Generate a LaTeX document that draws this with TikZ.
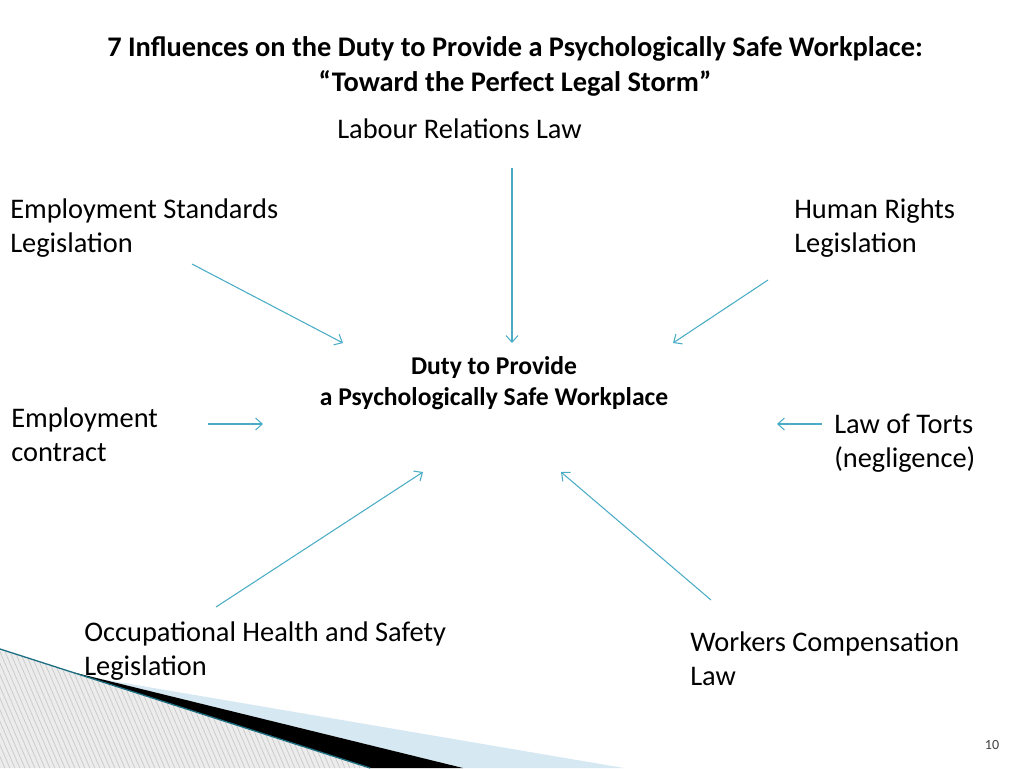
\documentclass[tikz,border=0pt]{standalone}
\usepackage{fontspec}
\setmainfont{Carlito}
\usetikzlibrary{arrows.meta}
\definecolor{arrowc}{RGB}{75,172,198}
\definecolor{lightband}{RGB}{214,232,241}
\definecolor{tealedge}{RGB}{30,110,130}
\definecolor{hatchbg}{RGB}{236,236,236}
\definecolor{hatchln}{RGB}{200,200,200}
\tikzset{
  lbl/.style={font=\fontsize{21.3}{25.2}\selectfont, inner sep=0pt, align=left, anchor=west},
  ttl/.style={font=\bfseries\fontsize{21.3}{25.8}\selectfont, inner sep=0pt, align=center},
  ctr/.style={font=\bfseries\fontsize{19.2}{23.4}\selectfont, inner sep=0pt, align=center},
  inf/.style={draw=arrowc, line width=0.8pt, -{Straight Barb[length=5pt,width=9pt,line width=0.8pt]}},
}
\begin{document}
\begin{tikzpicture}[x=0.75pt,y=-0.75pt]
\useasboundingbox (0,0) rectangle (1024,768);
% decoration bottom-left
\fill[lightband] (95,678) -- (624,768) -- (463,768) -- cycle;
\fill[black] (72,672) -- (463,768) -- (370,768) -- cycle;
\begin{scope}
  \clip (0,650) -- (370,768) -- (0,768) -- cycle;
  \fill[hatchbg] (0,640) rectangle (380,768);
  \foreach \i in {-40,...,80} {
    \draw[hatchln, line width=0.5pt] (\i*5,640) -- (\i*5+60,780);
  }
\end{scope}
\draw[tealedge, line width=1pt] (0,649) -- (370,768);

% title
\node[ttl] (title) at (515,66.5) {7 Influences on the Duty to Provide a Psychologically Safe Workplace:\\ \textquotedblleft Toward the Perfect Legal Storm\textquotedblright};

% labels
\node[lbl] (labour) at (337,128.5) {Labour Relations Law};
\node[lbl] (esl) at (10,228) {Employment Standards\\Legislation};
\node[lbl] (hrl) at (794,228) {Human Rights\\Legislation};
\node[lbl] (ec) at (11,435) {Employment\\contract};
\node[lbl] (lt) at (834,443) {Law of Torts\\(negligence)};
\node[lbl] (ohs) at (84,651) {Occupational Health and Safety\\Legislation};
\node[lbl] (wcl) at (690,659) {Workers Compensation\\Law};
\node[ctr] (duty) at (494,383) {Duty to Provide\\a Psychologically Safe Workplace};
\node[font=\fontsize{10.5}{12}\selectfont, text=black!75, inner sep=0pt] (pg) at (992,745) {10};

% arrow end points
\coordinate (aL1) at (512,168); \coordinate (aL2) at (512,343);
\coordinate (aE1) at (192,264); \coordinate (aE2) at (343,343);
\coordinate (aH1) at (768,280); \coordinate (aH2) at (673,343);
\coordinate (aC1) at (208,424); \coordinate (aC2) at (263,424);
\coordinate (aT1) at (822,424); \coordinate (aT2) at (777,424);
\coordinate (aO1) at (216,607); \coordinate (aO2) at (423,472);
\coordinate (aW1) at (711,600); \coordinate (aW2) at (561,472);

\draw[inf] (aL1) -- (aL2);
\draw[inf] (aE1) -- (aE2);
\draw[inf] (aH1) -- (aH2);
\draw[inf] (aC1) -- (aC2);
\draw[inf] (aT1) -- (aT2);
\draw[inf] (aO1) -- (aO2);
\draw[inf] (aW1) -- (aW2);
\end{tikzpicture}
\end{document}
